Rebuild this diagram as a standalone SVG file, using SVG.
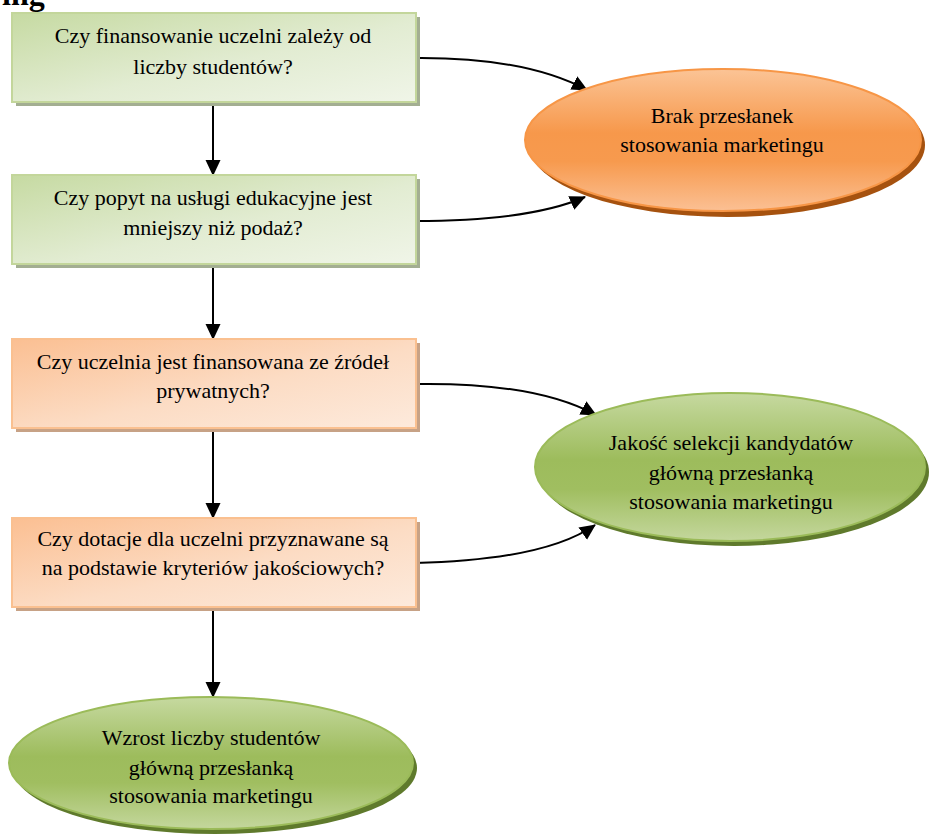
<svg xmlns="http://www.w3.org/2000/svg" width="931" height="839" viewBox="0 0 931 839">
  <style>
    .t { font-family: "Liberation Serif", "Times New Roman", serif; font-size: 22px; fill: #000; text-anchor: middle; }
    .head { font-family: "Liberation Serif", "Times New Roman", serif; font-size: 32px; font-weight: bold; fill: #000; }
    .boxG { fill: url(#gBox); stroke: #c3d69b; stroke-width: 2; }
    .boxO { fill: url(#oBox); stroke: #fac090; stroke-width: 2; }
    .shG { fill: #a3ae92; }
    .shO { fill: #c7a286; }
    .ellO { fill: url(#oEll); stroke: #f79646; stroke-width: 2; }
    .ellG { fill: url(#gEll); stroke: #9bbb59; stroke-width: 2; }
    .shEO { fill: #a6520f; }
    .shEG { fill: #5f7a2c; }
    .conn { fill: none; stroke: #000; stroke-width: 2; marker-end: url(#arrow); }
  </style>
  <defs>
    <linearGradient id="gBox" x1="0" y1="0" x2="1" y2="1">
      <stop offset="0" stop-color="#c6daa2"/>
      <stop offset="0.55" stop-color="#e2ecd2"/>
      <stop offset="1" stop-color="#f0f5e8"/>
    </linearGradient>
    <linearGradient id="oBox" x1="0" y1="0" x2="1" y2="1">
      <stop offset="0" stop-color="#fbbf92"/>
      <stop offset="0.55" stop-color="#fcdcc4"/>
      <stop offset="1" stop-color="#fdeadc"/>
    </linearGradient>
    <linearGradient id="oEll" x1="0" y1="0" x2="0" y2="1">
      <stop offset="0" stop-color="#fbc496"/>
      <stop offset="0.45" stop-color="#f7984b"/>
      <stop offset="0.65" stop-color="#f79a4e"/>
      <stop offset="1" stop-color="#fbc094"/>
    </linearGradient>
    <linearGradient id="gEll" x1="0" y1="0" x2="0" y2="1">
      <stop offset="0" stop-color="#c6d9a0"/>
      <stop offset="0.45" stop-color="#9dbc5c"/>
      <stop offset="0.65" stop-color="#a0be60"/>
      <stop offset="1" stop-color="#c4d79d"/>
    </linearGradient>
    <marker id="arrow" viewBox="0 0 16 16" refX="15" refY="8" markerWidth="16" markerHeight="16" markerUnits="userSpaceOnUse" orient="auto">
      <path d="M0,0.5 L16,8 L0,15.5 Z" fill="#000"/>
    </marker>
  </defs>

  <!-- heading fragment at the top edge -->
  <text class="head" x="2" y="5">ing</text>

  <!-- connectors -->
  <g id="connectors">
    <line class="conn" x1="213" y1="104" x2="213" y2="175"/>
    <line class="conn" x1="213" y1="268" x2="213" y2="339"/>
    <line class="conn" x1="213" y1="431" x2="213" y2="518"/>
    <line class="conn" x1="213" y1="611" x2="213" y2="697"/>
    <path class="conn" d="M415,58 Q525,57 587,90"/>
    <path class="conn" d="M415,221 Q530,221 585,197"/>
    <path class="conn" d="M415,384 Q535,382 596,415"/>
    <path class="conn" d="M415,563 Q545,560 595,525"/>
  </g>

  <!-- question boxes -->
  <g id="q1">
    <rect class="shG" x="16" y="17" width="404" height="89"/>
    <rect class="boxG" x="12" y="13" width="404" height="89"/>
    <text class="t" x="213" y="43">Czy finansowanie uczelni zależy od</text>
    <text class="t" x="213" y="74">liczby studentów?</text>
  </g>
  <g id="q2">
    <rect class="shG" x="16" y="179" width="404" height="89"/>
    <rect class="boxG" x="12" y="175" width="404" height="89"/>
    <text class="t" x="213" y="205">Czy popyt na usługi edukacyjne jest</text>
    <text class="t" x="213" y="235">mniejszy niż podaż?</text>
  </g>
  <g id="q3">
    <rect class="shO" x="16" y="343" width="404" height="89"/>
    <rect class="boxO" x="12" y="339" width="404" height="89"/>
    <text class="t" x="213" y="369">Czy uczelnia jest finansowana ze źródeł</text>
    <text class="t" x="213" y="398">prywatnych?</text>
  </g>
  <g id="q4">
    <rect class="shO" x="16" y="522" width="404" height="89"/>
    <rect class="boxO" x="12" y="518" width="404" height="89"/>
    <text class="t" x="213" y="546">Czy dotacje dla uczelni przyznawane są</text>
    <text class="t" x="213" y="575">na podstawie kryteriów jakościowych?</text>
  </g>

  <!-- outcome ellipses -->
  <g id="brak">
    <ellipse class="shEO" cx="727" cy="145" rx="198" ry="72"/>
    <ellipse class="ellO" cx="723" cy="140" rx="198" ry="71"/>
    <text class="t" x="722" y="123">Brak przesłanek</text>
    <text class="t" x="722" y="152">stosowania marketingu</text>
  </g>
  <g id="jakosc">
    <ellipse class="shEG" cx="734" cy="472" rx="195" ry="74"/>
    <ellipse class="ellG" cx="730" cy="467" rx="195" ry="74"/>
    <text class="t" x="731" y="450">Jakość selekcji kandydatów</text>
    <text class="t" x="731" y="480">główną przesłanką</text>
    <text class="t" x="731" y="509">stosowania marketingu</text>
  </g>
  <g id="wzrost">
    <ellipse class="shEG" cx="215" cy="768" rx="202" ry="66"/>
    <ellipse class="ellG" cx="211" cy="763" rx="202" ry="66"/>
    <text class="t" x="211" y="745">Wzrost liczby studentów</text>
    <text class="t" x="211" y="775">główną przesłanką</text>
    <text class="t" x="211" y="803">stosowania marketingu</text>
  </g>
</svg>
